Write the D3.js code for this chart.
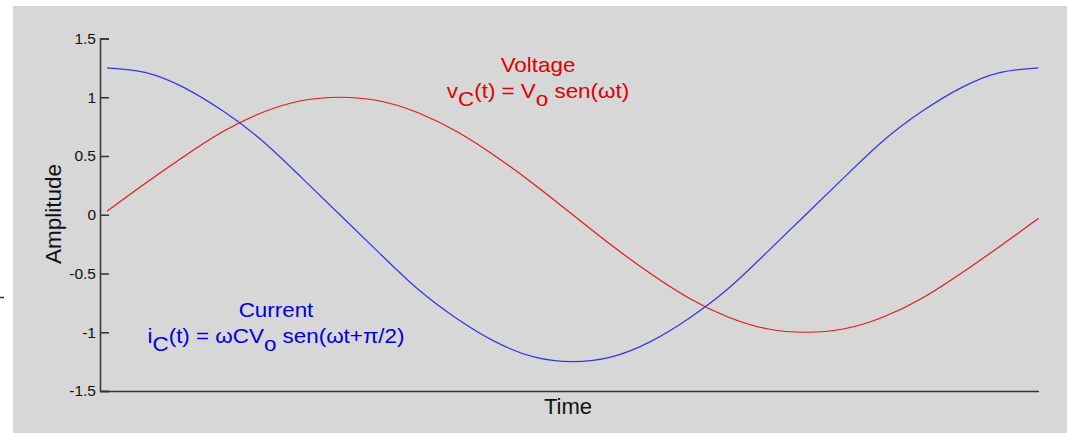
<!DOCTYPE html>
<html lang="en">
<head>
    <meta charset="utf-8">
    <title>Voltage and current</title>
    <script src="https://d3js.org/d3.v7.min.js"></script>
    <style>
        body { margin: 0; background: #fff; }
        text { font-family: "Liberation Sans", Arial, sans-serif; }
    </style>
</head>
<body>
    <script type="text/javascript">
        // phase in degrees, every 15 degrees
        var phase = [0, 15, 30, 45, 60, 75, 90, 105, 120, 135, 150, 165, 180,
                     195, 210, 225, 240, 255, 270, 285, 300, 315, 330, 345, 360];
        var voltage = [0.03, 0.27, 0.5, 0.71, 0.87, 0.97, 1, 0.97, 0.87, 0.71, 0.5, 0.26, 0,
                       -0.26, -0.5, -0.71, -0.87, -0.97, -1, -0.97, -0.87, -0.71, -0.5, -0.27, -0.03];
        var current = [1.25, 1.21, 1.08, 0.88, 0.63, 0.32, 0, -0.32, -0.63, -0.88, -1.08, -1.21, -1.25,
                       -1.21, -1.08, -0.88, -0.63, -0.32, 0, 0.32, 0.63, 0.88, 1.08, 1.21, 1.25];
        var yTicks = [-1.5, -1, -0.5, 0, 0.5, 1, 1.5];

        var w = 1067;
        var h = 433;

        var svg = d3.select("body")
                    .append("svg")
                    .attr("width", w)
                    .attr("height", h);

        // grey figure background
        svg.append("rect")
            .attr("x", 13).attr("y", 6)
            .attr("width", w - 13).attr("height", h - 6)
            .attr("fill", "#d7d7d7");

        // little stray mark at the left edge
        svg.append("line")
            .attr("x1", 0).attr("x2", 4)
            .attr("y1", 297.5).attr("y2", 297.5)
            .attr("stroke", "#333").attr("stroke-width", 1.5);

        var x = d3.scaleLinear().domain([-2.7, 360]).range([100, 1038.5]);
        var y = d3.scaleLinear().domain([-1.5, 1.5]).range([391, 38.5]);

        // y axis, ticks point inward
        var yAxis = d3.axisLeft(y)
                      .tickValues(yTicks)
                      .tickSize(-9)
                      .tickPadding(4)
                      .tickFormat(function(d) { return String(d); });
        var gy = svg.append("g")
            .attr("transform", "translate(100,0)")
            .call(yAxis)
            .attr("font-size", 15.5)
            .attr("font-family", "'Liberation Sans', Arial, sans-serif");
        gy.select(".domain").attr("stroke", "#333").attr("stroke-width", 1.5);
        gy.selectAll(".tick line").attr("stroke", "#333").attr("stroke-width", 1.5);
        gy.selectAll(".tick text").attr("fill", "#111");

        // x axis: plain line, no ticks
        var xAxis = d3.axisBottom(x).tickValues([]).tickSizeOuter(0);
        var gx = svg.append("g")
            .attr("transform", "translate(0,391)")
            .call(xAxis);
        gx.select(".domain").attr("stroke", "#333").attr("stroke-width", 1.5);

        var line = d3.line()
                     .x(function(d) { return x(d[0]); })
                     .y(function(d) { return y(d[1]); })
                     .curve(d3.curveNatural);

        svg.append("path")
            .attr("d", line(d3.zip(phase, voltage)))
            .attr("fill", "none")
            .attr("stroke", "#e51a1a")
            .attr("stroke-width", 1.2);

        svg.append("path")
            .attr("d", line(d3.zip(phase, current)))
            .attr("fill", "none")
            .attr("stroke", "#3434ee")
            .attr("stroke-width", 1.2);

        // axis titles
        svg.append("text")
            .attr("x", 568).attr("y", 414)
            .attr("text-anchor", "middle")
            .style("font-size", "22px")
            .attr("fill", "#111")
            .text("Time");

        svg.append("text")
            .attr("transform", "translate(61,214) rotate(-90)")
            .attr("text-anchor", "middle")
            .style("font-size", "22.5px")
            .attr("fill", "#111")
            .text("Amplitude");

        // annotations with subscripts (glyphs in the original are a bit wide)
        function label(cx, cy, color, title, parts) {
            var g = svg.append("g")
                .attr("transform", "translate(" + cx + ",0) scale(1.12,1)")
                .attr("fill", color)
                .style("font-size", "20px");
            g.append("text")
                .attr("x", 0).attr("y", cy)
                .attr("text-anchor", "middle")
                .text(title);
            var t = g.append("text")
                .attr("x", 0).attr("y", cy + 26)
                .attr("text-anchor", "middle");
            parts.forEach(function(p) {
                t.append("tspan")
                    .attr("dy", p.sub ? 8 : (p.after ? -8 : 0))
                    .text(p.s);
            });
        }

        label(538, 72, "#e00000", "Voltage", [
            {s: "v"}, {s: "C", sub: true}, {s: "(t) = V", after: true},
            {s: "o", sub: true}, {s: " sen(\u03c9t)", after: true}
        ]);

        label(276, 317, "#0000e0", "Current", [
            {s: "i"}, {s: "C", sub: true}, {s: "(t) = \u03c9CV", after: true},
            {s: "o", sub: true}, {s: " sen(\u03c9t+\u03c0/2)", after: true}
        ]);
    </script>
</body>
</html>
